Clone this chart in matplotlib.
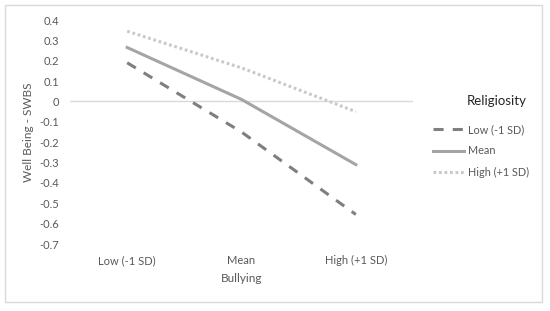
import matplotlib
matplotlib.use("Agg")
import matplotlib.pyplot as plt
from matplotlib.patches import Rectangle

categories = ["Low (-1 SD)", "Mean", "High (+1 SD)"]
series_names = ["Low (-1 SD)", "Mean", "High (+1 SD)"]
low_relig = [0.19, -0.15, -0.555]
mean_relig = [0.265, 0.01, -0.31]
high_relig = [0.345, 0.165, -0.05]
yticks = [0.4, 0.3, 0.2, 0.1, 0, -0.1, -0.2, -0.3, -0.4, -0.5, -0.6, -0.7]

plt.rcParams['font.family'] = ['Lato', 'DejaVu Sans']

fig = plt.figure(figsize=(5.5, 3.11), dpi=100)
ax = fig.add_axes([70/550, 1-244/311, (413-70)/550, (244-20)/311])

x = list(range(len(categories)))
ax.plot(x, low_relig, color='#7f7f7f', lw=2.2, ls=(0, (3.3, 3)), label=series_names[0])
ax.plot(x, mean_relig, color='#a5a5a5', lw=2.2, ls='-', label=series_names[1])
ax.plot(x, high_relig, color='#c9c9c9', lw=2.2, ls=(0, (0.9, 0.9)), label=series_names[2])

ax.axhline(0, color='#d9d9d9', lw=1, zorder=0)
ax.set_xlim(-0.5, 2.5)
ax.set_ylim(-0.7, 0.4)
ax.set_yticks(yticks)
ax.set_yticklabels([("%g" % v) for v in yticks])
ax.set_xticks(x)
ax.set_xticklabels(categories)
for s in ax.spines.values():
    s.set_visible(False)
ax.tick_params(axis='both', length=0, labelsize=8, labelcolor='#595959')
ax.tick_params(axis='y', pad=8)
ax.tick_params(axis='x', pad=8)
ax.set_xlabel("Bullying", fontsize=8.5, color='#595959', labelpad=5)
ax.set_ylabel("Well Being - SWBS", fontsize=8.5, color='#595959', labelpad=4)

fig.text(497/550, 1-101/311, "Religiosity", fontsize=9.5, color='#262626',
         ha='center', va='center')
leg = ax.legend(loc='upper left', bbox_to_anchor=((433-70)/343, (244-124)/224),
                frameon=False, fontsize=7.8, borderpad=0, borderaxespad=0,
                handlelength=2.9, handletextpad=0.35, labelspacing=0.95)
for t in leg.get_texts():
    t.set_color('#595959')

fig.patches.append(Rectangle((5/550, 1-302/311), (542-5)/550, (302-5)/311,
                             transform=fig.transFigure, fill=False,
                             edgecolor='#d9d9d9', lw=1))

fig.savefig("out.png", dpi=100)
